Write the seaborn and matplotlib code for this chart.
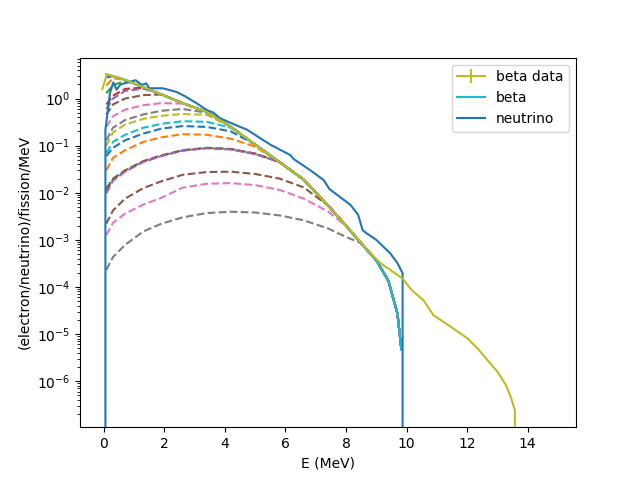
import matplotlib
matplotlib.use("Agg")
import matplotlib.pyplot as plt
import seaborn as sns

# common energy grid (MeV) for the beta curve and the dashed partial sums
energy = [0.08, 0.3, 0.7, 1.3, 1.9, 2.6, 3.4, 4.2, 5.0, 5.8, 6.6, 7.4, 8.0, 8.5, 9.0, 9.4, 9.7, 9.83]

# summed beta spectrum
beta = [3.25, 3.0, 2.5, 1.75, 1.22, 0.8, 0.52, 0.25, 0.105, 0.045, 0.019, 5.4e-3,
        2.0e-3, 8.5e-4, 3.7e-4, 1.35e-4, 2.7e-5, 4.6e-6]

# partial sums of branches (dashed), they join the beta curve at high energy
sum_00 = [2.8, 3.0] + beta[2:]
sum_01 = [1.9, 2.7] + beta[2:]
sum_02 = [1.3, 1.9, 2.4] + beta[3:]
sum_03 = [0.75, 1.15, 1.6, 1.7] + beta[4:]
sum_04 = [0.6, 1.0, 1.45, 1.62] + beta[4:]
sum_05 = [0.45, 0.75, 1.0, 1.18] + beta[4:]
sum_06 = [0.25, 0.42, 0.58, 0.72, 0.8, 0.78] + beta[6:]
sum_07 = [0.13, 0.24, 0.35, 0.46, 0.55, 0.6, 0.5] + beta[7:]
sum_08 = [0.1, 0.19, 0.28, 0.37, 0.43, 0.47, 0.45] + beta[7:]
sum_09 = [0.07, 0.12, 0.17, 0.24, 0.29, 0.33, 0.32, 0.24] + beta[8:]
sum_10 = [0.06, 0.09, 0.13, 0.18, 0.23, 0.26, 0.25, 0.2] + beta[8:]
sum_11 = [0.03, 0.055, 0.08, 0.12, 0.15, 0.175, 0.17, 0.14, 0.095] + beta[9:]
sum_12 = [0.0124, 0.02, 0.03, 0.047, 0.062, 0.08, 0.09, 0.085, 0.068] + beta[9:]
sum_13 = [0.011, 0.019, 0.029, 0.046, 0.061, 0.079, 0.089, 0.084, 0.067] + beta[9:]
sum_14 = [0.0097, 0.018, 0.028, 0.045, 0.06, 0.078, 0.088, 0.083, 0.066] + beta[9:]
sum_15 = [2.2e-3, 4.2e-3, 7.5e-3, 0.0125, 0.0175, 0.024, 0.0275, 0.028, 0.025,
          0.02, 0.013] + beta[11:]
sum_16 = [1.26e-3, 2.3e-3, 3.6e-3, 5.6e-3, 7.8e-3, 0.0128, 0.0155, 0.016, 0.0145,
          0.0115, 7.5e-3, 4.0e-3] + beta[12:]
sum_17 = [2.3e-4, 4.3e-4, 7.8e-4, 1.5e-3, 2.2e-3, 3.0e-3, 3.7e-3, 3.95e-3, 3.8e-3,
          3.3e-3, 2.6e-3, 1.75e-3, 1.15e-3] + beta[13:]

partial_sums = [sum_00, sum_01, sum_02, sum_03, sum_04, sum_05, sum_06, sum_07, sum_08,
                sum_09, sum_10, sum_11, sum_12, sum_13, sum_14, sum_15, sum_16, sum_17]

# measured beta spectrum
data_energy = [-0.05, 0.1, 0.3, 0.7, 1.3, 1.9, 2.6, 3.4, 4.2, 5.0, 5.8, 6.6, 7.4, 8.0,
               8.5, 8.81, 9.14, 9.86, 10.17, 10.56, 10.89, 11.46, 12.01, 12.34, 12.67,
               13.0, 13.28, 13.44, 13.58, 13.6]
data_beta = [1.6, 3.3, 3.0, 2.5, 1.75, 1.22, 0.8, 0.52, 0.25, 0.105, 0.045, 0.019, 5.4e-3,
             2.0e-3, 8.7e-4, 5.2e-4, 3.2e-4, 1.52e-4, 8.6e-5, 5.2e-5, 2.5e-5, 1.43e-5,
             8.1e-6, 5.0e-6, 2.8e-6, 1.6e-6, 8.3e-7, 4.7e-7, 2.4e-7, 0.0]

# neutrino spectrum
nu_energy = [0.03, 0.05, 0.2, 0.31, 0.42, 0.55, 0.8, 1.05, 1.25, 1.4, 1.5, 1.95, 2.4,
             2.7, 3.07, 3.4, 3.62, 3.84, 4.5, 4.72, 5.17, 5.5, 5.85, 6.16, 6.27, 6.82,
             7.26, 7.45, 8.15, 8.4, 8.55, 8.7, 9.0, 9.47, 9.7, 9.87, 9.88]
neutrino = [0.0, 0.22, 1.3, 2.2, 1.55, 2.0, 2.2, 2.45, 1.95, 2.1, 1.65, 1.65, 1.38,
            1.1, 0.79, 0.57, 0.5, 0.38, 0.25, 0.22, 0.143, 0.105, 0.08, 0.063, 0.052,
            0.030, 0.0186, 0.012, 5.5e-3, 3.4e-3, 1.6e-3, 1.35e-3, 1.0e-3, 5.1e-4,
            3.2e-4, 1.95e-4, 0.0]

palette = sns.color_palette("tab10")

fig, ax = plt.subplots(figsize=(6.4, 4.8), dpi=100)

# dashed partial sums follow the colour cycle
for i, vals in enumerate(partial_sums):
    sns.lineplot(x=energy, y=vals, ax=ax, color=palette[i % 10], linestyle="--",
                 estimator=None, sort=False)

ax.errorbar(data_energy, data_beta, yerr=0, color=palette[8], label="beta data")
sns.lineplot(x=energy, y=beta, ax=ax, color=palette[9], label="beta",
             estimator=None, sort=False)
sns.lineplot(x=nu_energy, y=neutrino, ax=ax, color=palette[0], label="neutrino",
             estimator=None, sort=False)

ax.set_yscale("log")
ax.set_xlim(-0.79, 15.6)
ax.set_ylim(1.05e-7, 7.4)
ax.set_xlabel("E (MeV)")
ax.set_ylabel("(electron/neutrino)/fission/MeV")

handles, labels = ax.get_legend_handles_labels()
order = [labels.index(n) for n in ["beta data", "beta", "neutrino"]]
ax.legend([handles[i] for i in order], [labels[i] for i in order], loc="upper right")

plt.savefig("out.png")
